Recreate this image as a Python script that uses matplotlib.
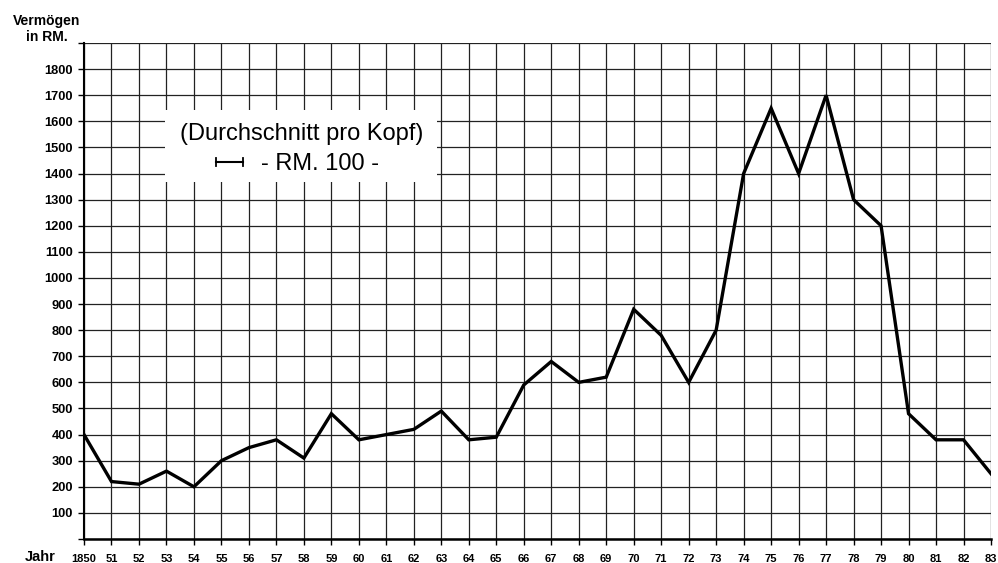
import matplotlib
matplotlib.use("Agg")
import matplotlib.pyplot as plt
import numpy as np

years = list(range(1850, 1884))
vermoegen = [400, 220, 210, 260, 200, 300, 350, 380, 310, 480,
             380, 400, 420, 490, 380, 390, 590, 680, 600, 620,
             880, 780, 600, 800, 1400, 1650, 1400, 1700, 1300, 1200,
             480, 380, 380, 250]
x_labels = ["1850"] + [f"{y % 100:02d}" for y in years[1:]]
y_ticks = list(range(0, 2000, 100))
y_labels = ["" if v in (0, 1900) else str(v) for v in y_ticks]

plt.rcParams['font.family'] = ['Liberation Sans', 'DejaVu Sans']

fig = plt.figure(figsize=(9.98, 5.63), dpi=100)
ax = fig.add_axes([84/998, 24/563, 907/998, 496/563])

ax.set_xlim(1850, 1883)
ax.set_ylim(0, 1900)
ax.set_xticks(years)
ax.set_xticklabels(x_labels, fontsize=8, fontweight='bold')
ax.set_yticks(y_ticks)
ax.set_yticklabels(y_labels, fontsize=9.3, fontweight='bold')
ax.tick_params(direction='out', length=4, width=1, color='black')
ax.tick_params(axis='x', pad=7)
ax.tick_params(axis='y', pad=4)
ax.grid(True, color='#222222', linewidth=0.9)
ax.set_axisbelow(True)
for s in ['top', 'right']:
    ax.spines[s].set_visible(False)
ax.spines['left'].set_linewidth(1.5)
ax.spines['bottom'].set_linewidth(1.8)

ax.plot(years, vermoegen, color='black', linewidth=2.4, solid_joinstyle='miter', zorder=3)

# legend box
box = plt.Rectangle((165/998, (563-182)/563), (437-165)/998, 72/563,
                    transform=fig.transFigure, facecolor='white', edgecolor='none', zorder=4)
ax.add_patch(box)
box.set_clip_on(False)
fig.text(302/998, 1 - 134/563, "(Durchschnitt pro Kopf)", ha='center', va='center',
         fontsize=17, zorder=5)
fig.text(320/998, 1 - 164/563, "- RM. 100 -", ha='center', va='center',
         fontsize=17, zorder=5)
# scale bar symbol
y0 = 1 - 162/563
fig.add_artist(plt.Line2D([216/998, 243/998], [y0, y0], color='black', linewidth=1.5,
                          transform=fig.transFigure, zorder=6))
for xx in (216/998, 243/998):
    fig.add_artist(plt.Line2D([xx, xx], [y0 - 4/563, y0 + 4/563], color='black', linewidth=1.3,
                              transform=fig.transFigure, zorder=6))

fig.text(47/998, 1 - 29/563, "Vermögen\nin RM.", ha='center', va='center',
         fontsize=10, fontweight='bold', linespacing=1.15, multialignment='center')
fig.text(25/998, 1 - 557/563, "Jahr", ha='left', va='center',
         fontsize=10.5, fontweight='bold')

fig.savefig("out.png", dpi=100)
